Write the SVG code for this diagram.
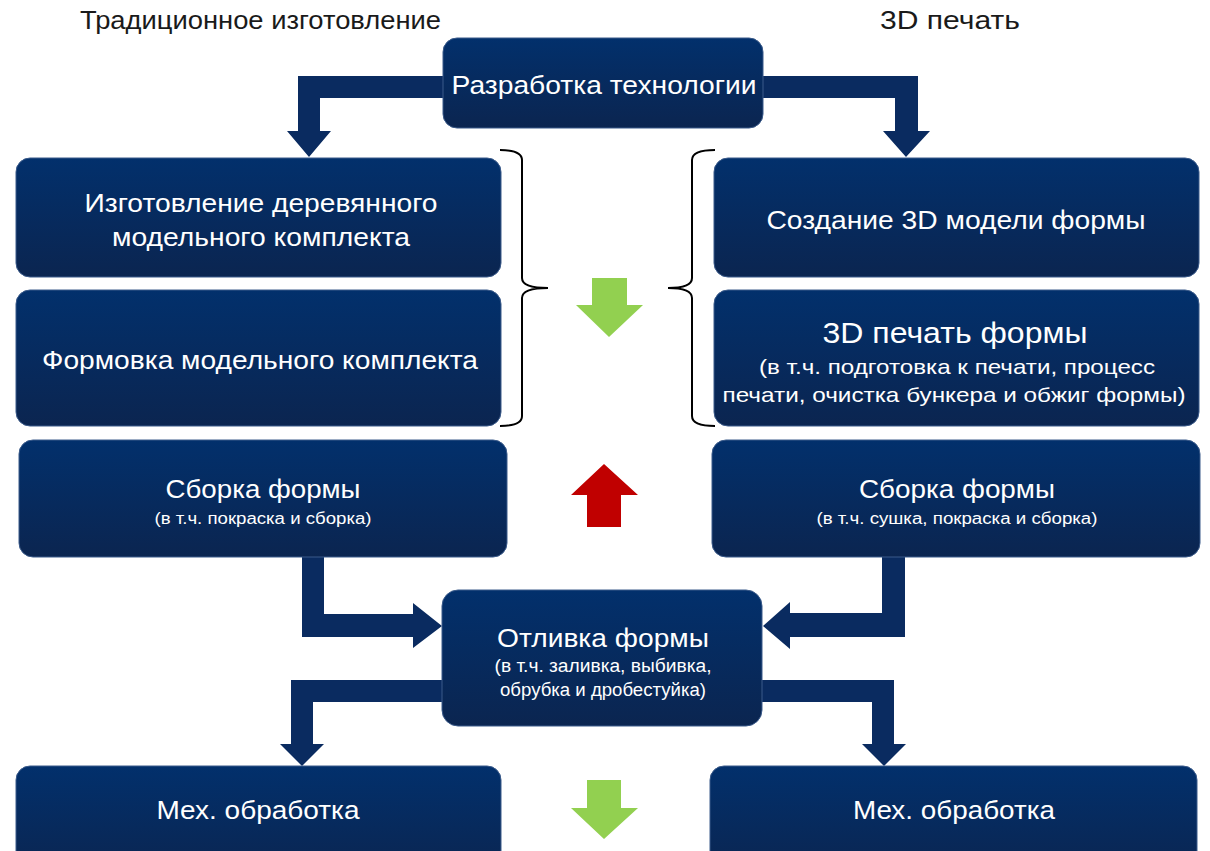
<svg xmlns="http://www.w3.org/2000/svg" width="1210" height="851" viewBox="0 0 1210 851">
<defs>
<linearGradient id="boxg" x1="0" y1="0" x2="0" y2="1">
<stop offset="0" stop-color="#02306c"/>
<stop offset="1" stop-color="#0b2550"/>
</linearGradient>
<style>
.box{fill:url(#boxg);stroke:#3a5a8a;stroke-width:1}
.t{font-family:"Liberation Sans",Arial,sans-serif;fill:#fff;text-anchor:middle}
.h{font-family:"Liberation Sans",Arial,sans-serif;fill:#1a1a1a;font-size:25px}
.arr{fill:#0a2b60}
.brace{fill:none;stroke:#000;stroke-width:2}
</style>
</defs>
<rect width="1210" height="851" fill="#fff"/>
<text class="h" x="80" y="29" textLength="361" lengthAdjust="spacingAndGlyphs">Традиционное изготовление</text>
<text class="h" x="880" y="29" textLength="140" lengthAdjust="spacingAndGlyphs">3D печать</text>

<g id="connectors">
<path class="arr" d="M445,76 L298,76 L298,131 L287,131 L309,157 L331,131 L320,131 L320,98 L445,98 Z"/>
<path class="arr" d="M760,76 L918,76 L918,131 L930,131 L906,157 L883,131 L895,131 L895,98 L760,98 Z"/>
<path class="arr" d="M302,555 L324,555 L324,614 L413,614 L413,603 L442,626 L413,648 L413,637 L302,637 Z"/>
<path class="arr" d="M905,555 L882,555 L882,613 L790,613 L790,602 L763,626 L790,649 L790,637 L905,637 Z"/>
<path class="arr" d="M445,680 L291,680 L291,744 L280,744 L302,766 L324,744 L313,744 L313,702 L445,702 Z"/>
<path class="arr" d="M760,680 L894,680 L894,744 L906,744 L884,766 L862,744 L872,744 L872,702 L760,702 Z"/>
<path class="brace" d="M500,150 Q522,150 522,160 L522,278 Q522,288 548,288 Q522,288 522,298 L522,416 Q522,426 500,426"/>
<path class="brace" d="M715,150 Q692,150 692,160 L692,278 Q692,288 668,288 Q692,288 692,298 L692,416 Q692,426 715,426"/>
<path fill="#92d050" d="M592,278 L627,278 L627,305 L643,305 L609,337 L576,305 L592,305 Z"/>
<path fill="#c00000" d="M587,527 L621,527 L621,495 L638,495 L604,464 L571,495 L587,495 Z"/>
<path fill="#92d050" d="M587,780 L621,780 L621,808 L638,808 L604,839 L571,808 L587,808 Z"/>
</g>

<g id="n-top">
<rect class="box" x="443" y="38" width="320" height="90" rx="14"/>
<text class="t" x="604" y="94" font-size="25" textLength="305" lengthAdjust="spacingAndGlyphs">Разработка технологии</text>
</g>
<g id="n-l1">
<rect class="box" x="16" y="158" width="485" height="119" rx="14"/>
<text class="t" x="261" y="212" font-size="25" textLength="353" lengthAdjust="spacingAndGlyphs">Изготовление деревянного</text>
<text class="t" x="261" y="246" font-size="25" textLength="298" lengthAdjust="spacingAndGlyphs">модельного комплекта</text>
</g>
<g id="n-l2">
<rect class="box" x="16" y="290" width="485" height="136" rx="14"/>
<text class="t" x="260" y="369" font-size="25" textLength="436" lengthAdjust="spacingAndGlyphs">Формовка модельного комплекта</text>
</g>
<g id="n-l3">
<rect class="box" x="19" y="440" width="488" height="117" rx="14"/>
<text class="t" x="263" y="498" font-size="25" textLength="195" lengthAdjust="spacingAndGlyphs">Сборка формы</text>
<text class="t" x="263" y="524" font-size="16" textLength="217" lengthAdjust="spacingAndGlyphs">(в т.ч. покраска и сборка)</text>
</g>
<g id="n-l4">
<rect class="box" x="16" y="766" width="485" height="110" rx="14"/>
<text class="t" x="258" y="819" font-size="25" textLength="203" lengthAdjust="spacingAndGlyphs">Мех. обработка</text>
</g>
<g id="n-r1">
<rect class="box" x="714" y="158" width="485" height="119" rx="14"/>
<text class="t" x="956" y="229" font-size="25" textLength="379" lengthAdjust="spacingAndGlyphs">Создание 3D модели формы</text>
</g>
<g id="n-r2">
<rect class="box" x="714" y="290" width="485" height="136" rx="14"/>
<text class="t" x="955" y="343" font-size="29" textLength="265" lengthAdjust="spacingAndGlyphs">3D печать формы</text>
<text class="t" x="957" y="374" font-size="21" textLength="396" lengthAdjust="spacingAndGlyphs">(в т.ч. подготовка к печати, процесс</text>
<text class="t" x="954" y="402" font-size="21" textLength="463" lengthAdjust="spacingAndGlyphs">печати, очистка бункера и обжиг формы)</text>
</g>
<g id="n-r3">
<rect class="box" x="712" y="440" width="488" height="117" rx="14"/>
<text class="t" x="957" y="498" font-size="25" textLength="196" lengthAdjust="spacingAndGlyphs">Сборка формы</text>
<text class="t" x="957" y="524" font-size="16" textLength="281" lengthAdjust="spacingAndGlyphs">(в т.ч. сушка, покраска и сборка)</text>
</g>
<g id="n-r4">
<rect class="box" x="710" y="766" width="487" height="110" rx="14"/>
<text class="t" x="954" y="819" font-size="25" textLength="202" lengthAdjust="spacingAndGlyphs">Мех. обработка</text>
</g>
<g id="n-center">
<rect class="box" x="442" y="590" width="320" height="136" rx="16"/>
<text class="t" x="603" y="647" font-size="26" textLength="212" lengthAdjust="spacingAndGlyphs">Отливка формы</text>
<text class="t" x="603" y="672" font-size="18" textLength="217" lengthAdjust="spacingAndGlyphs">(в т.ч. заливка, выбивка,</text>
<text class="t" x="603" y="696" font-size="18" textLength="206" lengthAdjust="spacingAndGlyphs">обрубка и дробестуйка)</text>
</g>
</svg>
